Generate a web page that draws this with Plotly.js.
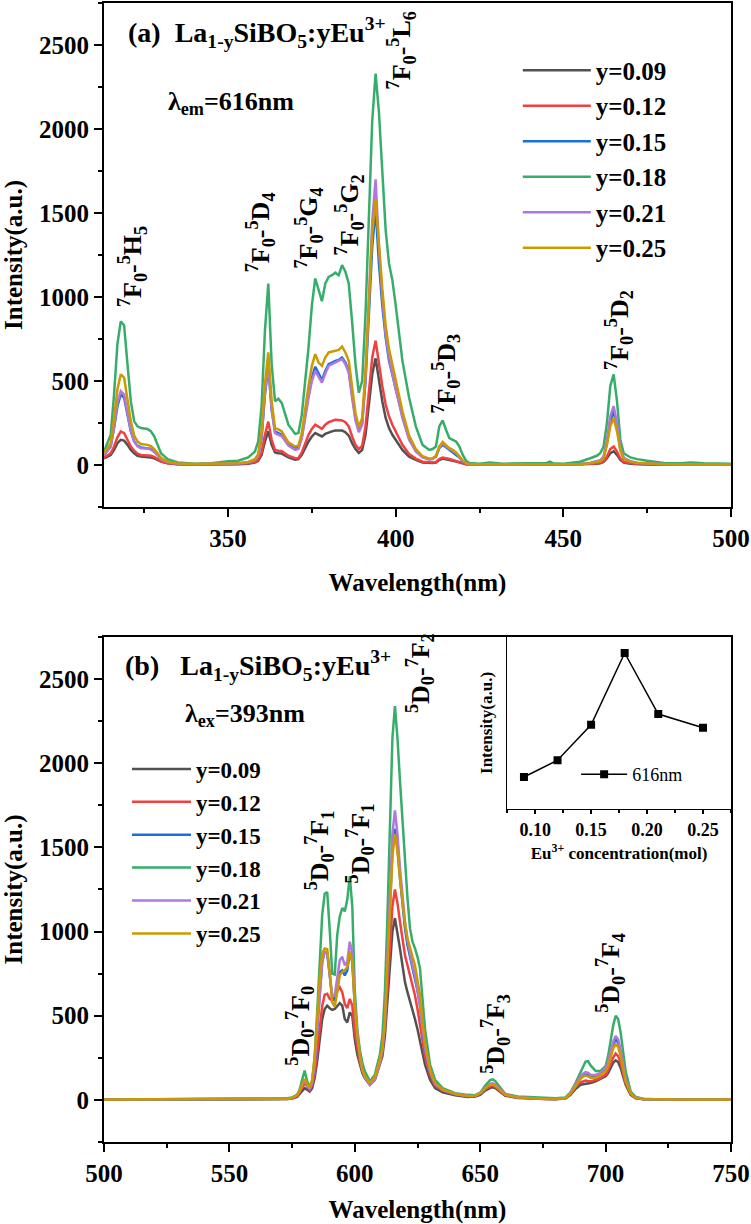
<!DOCTYPE html>
<html>
<head>
<meta charset="utf-8">
<script src="https://cdn.plot.ly/plotly-3.0.1.min.js"></script>
<style>html,body{margin:0;padding:0;background:#fff}</style>
</head>
<body>
<div id="chart" style="width:751px;height:1224px"></div>
<script>
// Excitation spectra (monitored at 616 nm), La(1-y)SiBO5:yEu3+
const exWavelength = [313,315,316,317,318,319,320,321,322,323,324,326,327,328,329,330,332,335,340,345,
  350,353,356,358,359,360,361,362,363,364,365,366,368,370,371,372,374,375,376,377,
  378,379,380,381,382,383,384,385,386,387,388,389,390,391,392,393,394,395,396,397,
  398,399,400,401,402,404,406,408,410,411,412,413,414,415,416,417,418,419,420,421,
  422,425,428,432,440,445,446,447,450,455,458,460,461,462,463,464,465,466,467,468,
  470,472,475,480,485,488,492,500];
const ex009 = [40,60,90,130,150,145,120,90,70,55,50,48,45,40,30,20,10,5,3,3,
  5,5,8,15,25,60,140,200,120,75,70,68,45,32,35,60,140,170,190,180,
  170,185,195,200,205,205,205,195,175,130,95,72,90,180,360,540,635,500,380,280,
  220,180,150,120,90,50,30,15,12,12,15,30,38,35,30,25,20,15,8,4,
  3,2,3,2,2,3,4,2,2,3,5,8,10,18,40,70,82,60,30,15,
  8,5,3,2,2,3,2,2];
const ex012 = [45,70,110,165,200,190,150,110,85,68,60,58,55,48,35,22,10,5,3,3,
  5,6,10,18,30,75,180,258,150,90,85,82,55,40,42,75,180,215,240,225,
  215,240,255,262,270,268,265,255,230,170,120,95,115,230,430,640,740,600,470,360,
  290,240,200,160,120,65,38,20,14,15,18,35,45,42,36,30,24,18,10,5,
  3,2,3,2,2,3,4,2,2,3,6,10,13,22,50,95,110,80,38,18,
  10,6,4,2,2,3,2,2];
const ex015 = [60,110,220,350,420,400,300,200,140,115,105,100,95,80,60,38,18,8,5,5,
  8,9,15,30,55,160,420,590,330,200,190,180,125,100,105,170,420,520,585,540,
  505,560,600,610,620,625,640,610,560,420,280,205,250,500,900,1300,1530,1200,950,760,
  620,540,460,380,290,160,85,48,35,38,50,100,120,105,90,80,65,45,22,10,
  5,3,5,3,3,5,7,4,3,5,10,18,25,45,130,260,320,230,95,40,
  20,12,8,4,3,5,3,3];
const ex018 = [80,180,420,720,855,830,600,380,260,230,220,215,200,170,120,70,35,15,8,10,
  22,25,45,80,140,350,800,1080,600,380,395,370,240,185,190,300,700,950,1110,1040,
  975,1080,1120,1130,1145,1130,1190,1150,1080,850,600,430,500,900,1500,2050,2330,2100,1750,1400,
  1200,1100,950,800,620,400,230,120,90,95,110,230,265,210,160,150,140,110,60,25,
  12,8,15,8,8,12,20,10,8,20,40,55,70,110,250,470,540,380,150,70,
  45,35,25,12,10,15,10,8];
const ex021 = [60,110,230,370,440,420,310,205,140,112,100,98,92,78,58,35,16,7,5,5,
  8,9,15,30,55,170,430,600,330,190,180,172,115,90,95,160,400,500,560,520,
  490,545,590,600,610,620,630,600,550,400,265,195,240,520,980,1450,1700,1300,1000,780,
  640,540,450,370,280,150,80,45,33,36,50,105,130,112,95,85,70,48,24,10,
  5,3,5,3,3,5,7,4,3,5,12,20,28,50,150,290,350,250,100,42,
  22,13,8,4,3,5,3,3];
const ex025 = [70,130,280,450,540,520,390,260,175,140,125,120,112,95,70,42,20,9,6,6,
  9,10,18,35,65,200,480,670,380,220,212,200,135,110,115,190,470,590,660,610,
  590,640,670,675,680,685,705,670,620,460,310,225,280,560,1000,1380,1580,1300,1050,830,
  690,600,510,420,320,175,95,52,38,40,55,110,138,118,100,90,75,52,26,11,
  5,3,5,3,3,5,7,4,3,5,10,16,22,40,120,230,280,200,85,36,
  20,12,8,4,3,5,3,3];

// Emission spectra (excited at 393 nm)
const emWavelength = [500,510,520,530,540,550,555,560,565,570,573,575,577,578,579,580,581,582,583,584,
  585,586,587,588,589,590,591,592,593,594,595,596,597,598,599,600,601,602,603,604,
  606,608,610,611,612,613,614,615,616,617,618,619,620,621,622,623,624,625,626,627,
  628,630,632,635,640,645,648,650,652,654,655,656,658,660,665,670,675,680,684,686,
  688,690,691,692,693,694,696,698,700,701,702,703,704,705,706,707,708,710,712,715,
  720,730,740,750];
const em009 = [2,2,3,2,3,2,3,3,3,4,5,8,18,35,55,70,60,50,70,130,
  230,350,480,540,560,545,535,540,560,575,560,480,460,520,500,360,270,210,160,130,
  90,120,210,260,380,600,830,1000,1080,1000,900,800,700,640,590,540,480,420,350,280,
  210,120,70,45,28,18,20,30,55,72,75,70,45,25,12,8,5,4,8,30,
  65,90,93,95,97,100,110,125,140,160,190,220,235,225,190,140,90,30,10,4,
  3,2,2,2];
const em012 = [3,3,3,2,3,3,3,3,4,5,6,10,22,45,75,100,80,60,90,160,
  280,420,560,625,630,600,590,610,650,670,640,570,545,600,560,400,300,230,170,135,
  95,125,220,280,420,680,950,1150,1250,1170,1060,950,860,800,740,680,620,540,450,340,
  260,150,85,55,32,22,22,35,62,82,85,78,50,28,14,9,6,5,9,35,
  75,105,110,115,112,110,118,130,150,175,210,250,275,260,220,160,100,35,12,5,
  3,3,2,3];
const em015 = [3,3,3,3,3,3,3,4,4,5,7,12,28,55,95,120,90,70,110,220,
  420,650,820,880,870,740,600,590,680,760,770,740,770,880,820,560,380,260,180,140,
  100,130,230,300,460,800,1200,1480,1610,1500,1320,1150,1020,920,850,790,730,650,560,420,
  310,170,95,60,35,24,25,40,70,92,95,88,58,32,16,10,7,5,10,40,
  90,130,145,150,148,140,140,155,180,215,270,330,360,340,280,200,120,40,14,5,
  3,3,3,3];
const em018 = [3,3,4,3,4,3,5,4,5,6,10,15,30,60,120,175,110,80,110,250,
  520,820,1100,1225,1235,1010,750,745,980,1090,1140,1120,1190,1330,1150,650,420,300,220,170,
  110,150,270,380,640,1080,1600,2150,2340,2150,1900,1650,1400,1200,1020,940,900,850,780,600,
  420,210,120,70,40,30,28,42,85,118,122,112,70,35,20,16,12,10,15,45,
  100,165,200,228,230,205,172,172,200,260,350,440,500,480,400,290,170,50,18,7,
  4,3,3,3];
const em021 = [3,3,3,3,3,3,3,4,4,5,7,12,27,52,90,115,85,65,100,210,
  410,640,820,880,870,750,620,620,720,830,850,800,820,940,870,580,390,265,180,135,
  90,120,220,295,470,840,1280,1580,1720,1580,1380,1200,1060,950,870,800,740,660,560,420,
  310,170,95,60,35,24,25,42,72,95,98,90,60,33,16,10,7,5,10,42,
  95,140,155,165,160,150,148,160,190,225,285,345,380,360,295,210,125,42,15,5,
  3,3,3,3];
const em025 = [3,3,3,3,3,3,3,4,4,5,7,12,28,55,95,125,95,75,120,260,
  480,720,870,900,895,760,580,555,640,740,760,770,790,880,820,560,380,260,180,140,
  100,135,240,310,470,790,1180,1450,1580,1480,1320,1170,1050,960,900,850,800,720,620,470,
  340,180,100,62,36,24,25,40,70,90,92,85,56,30,15,10,7,5,10,38,
  85,125,138,145,140,132,132,145,170,200,250,305,330,315,260,185,110,38,13,5,
  3,3,3,3];

// 616 nm emission intensity versus Eu3+ content (inset)
const concentration = [0.09, 0.12, 0.15, 0.18, 0.21, 0.25];
const intensity616 = [1080, 1250, 1610, 2340, 1720, 1580];

const seriesLabels = ['y=0.09', 'y=0.12', 'y=0.15', 'y=0.18', 'y=0.21', 'y=0.25'];

const FONT = 'Liberation Serif, Times New Roman, serif';
const palette = ['#515151', '#F14040', '#1A6FDF', '#37AD6B', '#B177DE', '#CC9900'];

const exSeries = [ex009, ex012, ex015, ex018, ex021, ex025];
const emSeries = [em009, em012, em015, em018, em021, em025];

const traces = [];
exSeries.forEach((vals, i) => traces.push({
  type: 'scatter', mode: 'lines', x: exWavelength, y: vals,
  xaxis: 'x', yaxis: 'y', name: seriesLabels[i], legend: 'legend',
  line: {color: palette[i], width: 2.5}, hoverinfo: 'skip'
}));
emSeries.forEach((vals, i) => traces.push({
  type: 'scatter', mode: 'lines', x: emWavelength, y: vals,
  xaxis: 'x2', yaxis: 'y2', name: seriesLabels[i], legend: 'legend2',
  line: {color: palette[i], width: 2.5}, hoverinfo: 'skip'
}));
traces.push({
  type: 'scatter', mode: 'lines+markers', x: concentration, y: intensity616,
  xaxis: 'x3', yaxis: 'y3', name: '616nm', legend: 'legend3',
  line: {color: '#000', width: 1.5},
  marker: {symbol: 'square', size: 8, color: '#000'}, hoverinfo: 'skip'
});

const boldFont = (size) => ({family: FONT, size: size, color: '#000', weight: 'bold'});

const frame = {
  showline: true, linecolor: '#000', linewidth: 2, mirror: true,
  ticks: 'outside', ticklen: 8, tickwidth: 2, tickcolor: '#000',
  showgrid: false, zeroline: false, tickfont: boldFont(25), fixedrange: true
};

const yMain = (domain) => Object.assign({}, frame, {
  domain: domain, range: [-250, 2750], tick0: 0, dtick: 500,
  minor: {ticks: 'outside', ticklen: 4, tickwidth: 2, tickcolor: '#000', dtick: 250},
  title: {text: 'Intensity(a.u.)', font: boldFont(25), standoff: 18}
});
const xMain = (range, anchor) => Object.assign({}, frame, {
  range: range, anchor: anchor, tick0: 0, dtick: 50,
  minor: {ticks: 'outside', ticklen: 4, tickwidth: 2, tickcolor: '#000', dtick: 25},
  title: {text: 'Wavelength(nm)', font: boldFont(25), standoff: 22}
});

// transition labels, rotated to read upward
const transition = (text, x, y, xr, yr) => ({
  text: text, x: x, y: y, xref: xr, yref: yr, showarrow: false,
  textangle: -90, xanchor: 'center', yanchor: 'middle', font: boldFont(26)
});
const label = (text, x, y, xr, yr, size) => ({
  text: text, x: x, y: y, xref: xr, yref: yr, showarrow: false,
  xanchor: 'left', yanchor: 'middle', font: boldFont(size)
});

const NB = '\u00a0';
const formula = 'La<sub>1-y</sub>SiBO<sub>5</sub>:yEu<sup>3+</sup>';

const annotations = [
  label('(a)' + NB + NB + formula, 319.6, 2577, 'x', 'y', 28),
  label('λ<sub>em</sub>=616nm', 331.5, 2155, 'x', 'y', 26),
  transition('<sup>7</sup>F<sub>0</sub>-<sup>5</sup>H<sub>5</sub>', 321.4, 1179, 'x', 'y'),
  transition('<sup>7</sup>F<sub>0</sub>-<sup>5</sup>D<sub>4</sub>', 359.6, 1387, 'x', 'y'),
  transition('<sup>7</sup>F<sub>0</sub>-<sup>5</sup>G<sub>4</sub>', 374.0, 1411, 'x', 'y'),
  transition('<sup>7</sup>F<sub>0</sub>-<sup>5</sup>G<sub>2</sub>', 386.2, 1488, 'x', 'y'),
  transition('<sup>7</sup>F<sub>0</sub>-<sup>5</sup>L<sub>6</sub>', 401.7, 2470, 'x', 'y'),
  transition('<sup>7</sup>F<sub>0</sub>-<sup>5</sup>D<sub>3</sub>', 414.9, 542, 'x', 'y'),
  transition('<sup>7</sup>F<sub>0</sub>-<sup>5</sup>D<sub>2</sub>', 466.6, 804, 'x', 'y'),

  label('(b)' + NB + NB + NB + formula, 507.6, 2583, 'x2', 'y2', 28),
  label('λ<sub>ex</sub>=393nm', 531.5, 2286, 'x2', 'y2', 26),
  transition('<sup>5</sup>D<sub>0</sub>-<sup>7</sup>F<sub>0</sub>', 578.1, 440, 'x2', 'y2'),
  transition('<sup>5</sup>D<sub>0</sub>-<sup>7</sup>F<sub>1</sub>', 586.1, 1482, 'x2', 'y2'),
  transition('<sup>5</sup>D<sub>0</sub>-<sup>7</sup>F<sub>1</sub>', 602.1, 1524, 'x2', 'y2'),
  transition('<sup>5</sup>D<sub>0</sub>-<sup>7</sup>F<sub>2</sub>', 626.0, 2536, 'x2', 'y2'),
  transition('<sup>5</sup>D<sub>0</sub>-<sup>7</sup>F<sub>3</sub>', 655.9, 393, 'x2', 'y2'),
  transition('<sup>5</sup>D<sub>0</sub>-<sup>7</sup>F<sub>4</sub>', 701.8, 756, 'x2', 'y2')
];

const legendBase = {
  xanchor: 'left', yanchor: 'top', bgcolor: 'rgba(0,0,0,0)', borderwidth: 0,
  tracegroupgap: 0
};

const layout = {
  width: 751, height: 1224,
  margin: {l: 104, r: 20, t: 3, b: 82},
  paper_bgcolor: '#fff', plot_bgcolor: '#fff',
  font: {family: FONT, color: '#000'},
  showlegend: true,
  xaxis: xMain([313, 500], 'y'),
  yaxis: yMain([0.5575, 1]),
  xaxis2: xMain([500, 750], 'y2'),
  yaxis2: yMain([0, 0.4434]),
  xaxis3: {
    domain: [0.643, 1], anchor: 'y3', range: [0.075, 0.275],
    tick0: 0, dtick: 0.05, tickformat: '.2f',
    showline: true, linecolor: '#000', linewidth: 1.5, mirror: true,
    ticks: 'outside', ticklen: 4, tickwidth: 1.5, tickcolor: '#000',
    minor: {ticks: 'outside', ticklen: 3, tickwidth: 1.5, tickcolor: '#000', dtick: 0.025},
    showgrid: false, zeroline: false, tickfont: boldFont(18), fixedrange: true,
    title: {text: 'Eu<sup>3+</sup> concentration(mol)', font: boldFont(17), standoff: 8}
  },
  yaxis3: {
    domain: [0.2924, 0.4434], anchor: 'x3', range: [755, 2503],
    showline: true, linecolor: '#000', linewidth: 1.5, mirror: true,
    ticks: '', showticklabels: false, showgrid: false, zeroline: false, fixedrange: true,
    title: {text: 'Intensity(a.u.)', font: boldFont(17), standoff: 8}
  },
  legend: Object.assign({}, legendBase, {
    x: 0.660, y: 0.961, itemwidth: 68, font: boldFont(25)
  }),
  legend2: Object.assign({}, legendBase, {
    x: 0.0367, y: 0.3464, itemwidth: 59, font: boldFont(23)
  }),
  legend3: Object.assign({}, legendBase, {
    x: 0.753, y: 0.3388, itemwidth: 46,
    font: {family: FONT, size: 18, color: '#000'}
  }),
  annotations: annotations
};

Plotly.newPlot('chart', traces, layout, {displayModeBar: false, staticPlot: true});
</script>
</body>
</html>
